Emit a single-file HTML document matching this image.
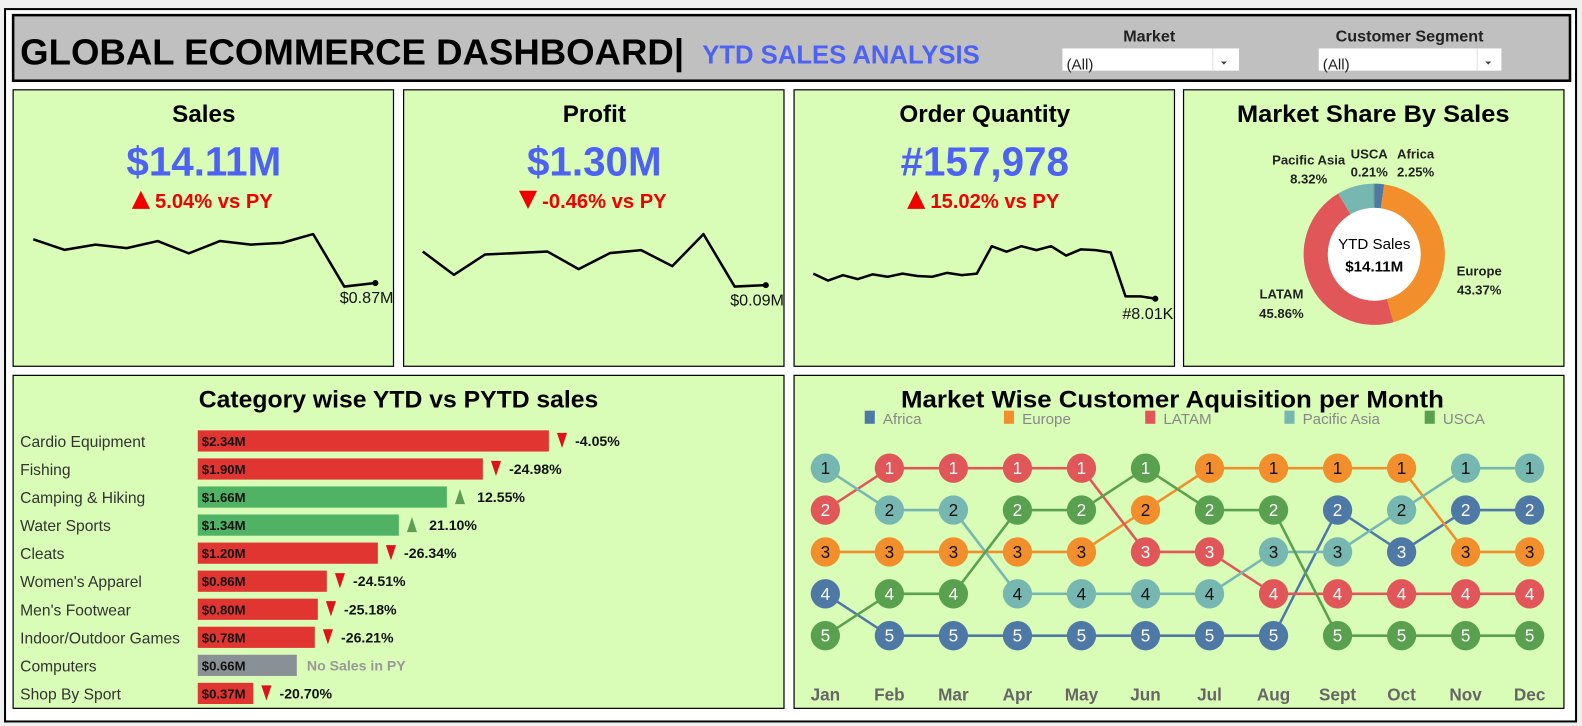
<!DOCTYPE html>
<html><head><meta charset="utf-8"><style>
html,body{margin:0;padding:0;background:#f0f0f0;}
svg{display:block;font-family:"Liberation Sans",sans-serif;}
</style></head><body>
<svg id="dash" width="1582" height="726" viewBox="0 0 1567.9 719.5" preserveAspectRatio="none" xmlns="http://www.w3.org/2000/svg">
<rect x="0" y="0" width="1568" height="720" fill="#f0f0f0"/>
<rect x="5" y="9" width="1557" height="706" fill="#ffffff" stroke="#000" stroke-width="2"/>
<rect x="13" y="15" width="1543" height="65" fill="#c0c0c0" stroke="#000" stroke-width="2.5"/>
<text x="20" y="64" font-size="36" font-weight="bold" fill="#000" textLength="658" lengthAdjust="spacingAndGlyphs">GLOBAL ECOMMERCE DASHBOARD|</text>
<text x="696" y="63" font-size="26" font-weight="bold" fill="#4d62f5" textLength="275" lengthAdjust="spacingAndGlyphs">YTD SALES ANALYSIS</text>
<text x="1139" y="41" font-size="16" font-weight="bold" fill="#222" text-anchor="middle">Market</text>
<g>
<rect x="1053" y="48" width="175" height="22" fill="#fff"/>
<line x1="1202" y1="48" x2="1202" y2="70" stroke="#ddd"/>
<text x="1057" y="69" font-size="15" fill="#222">(All)</text>
<path d="M1210 61 L1216 61 L1213 64 Z" fill="#444"/>
</g>
<text x="1397" y="41" font-size="16" font-weight="bold" fill="#222" text-anchor="middle">Customer Segment</text>
<g>
<rect x="1307" y="48" width="181" height="22" fill="#fff"/>
<line x1="1464" y1="48" x2="1464" y2="70" stroke="#ddd"/>
<text x="1311" y="69" font-size="15" fill="#222">(All)</text>
<path d="M1472 61 L1478 61 L1475 64 Z" fill="#444"/>
</g>

<g id="kpis"></g>
<rect x="1173" y="89" width="377" height="274" fill="#d9fcb6" stroke="#000" stroke-width="1.2"/>
<text x="1361" y="121" font-size="24" font-weight="bold" text-anchor="middle" textLength="270" lengthAdjust="spacingAndGlyphs">Market Share By Sales</text>
<g id="donut"></g>

<rect x="13" y="372" width="764" height="330" fill="#d9fcb6" stroke="#000" stroke-width="1.2"/>
<text x="395" y="404" font-size="24" font-weight="bold" text-anchor="middle" textLength="396" lengthAdjust="spacingAndGlyphs">Category wise YTD vs PYTD sales</text>
<g id="bars"></g>

<rect x="787" y="372" width="763" height="330" fill="#d9fcb6" stroke="#000" stroke-width="1.2"/>
<text x="1162" y="404" font-size="24" font-weight="bold" text-anchor="middle" textLength="538" lengthAdjust="spacingAndGlyphs">Market Wise Customer Aquisition per Month</text>
<g id="bump"></g>
</svg>
<script>
const kpiTitles = ["Sales","Profit","Order Quantity"];
const kpiValues = ["$14.11M","$1.30M","#157,978"];
const kpiChanges = ["5.04%  vs PY","-0.46% vs PY","15.02% vs PY"];
const kpiUp = [true,false,true];
const kpiEndLabels = ["$0.87M","$0.09M","#8.01K"];
const salesTrend = [2.2,1.9,2.05,1.95,2.15,1.8,2.15,2.05,2.1,2.35,0.85,0.95];
const profitTrend = [0.26,0.18,0.25,0.255,0.26,0.2,0.255,0.265,0.21,0.32,0.14,0.145];
const orderTrend = [13.5,12.6,13.3,12.8,13.4,13.1,13.5,13.2,13.1,13.6,13.3,13.5,17.0,16.3,17.0,16.5,17.0,15.8,16.6,16.5,16.2,10.6,10.6,10.3];
const trends = [salesTrend, profitTrend, orderTrend];

const shareMarkets = ["Africa","Europe","LATAM","Pacific Asia","USCA"];
const sharePct = [2.25,43.37,45.86,8.32,0.21];

const categories = ["Cardio Equipment","Fishing","Camping & Hiking","Water Sports","Cleats","Women's Apparel","Men's Footwear","Indoor/Outdoor Games","Computers","Shop By Sport"];
const categorySales = [2.34,1.90,1.66,1.34,1.20,0.86,0.80,0.78,0.66,0.37];
const categoryChange = [-4.05,-24.98,12.55,21.10,-26.34,-24.51,-25.18,-26.21,null,-20.70];

const months = ["Jan","Feb","Mar","Apr","May","Jun","Jul","Aug","Sept","Oct","Nov","Dec"];
const markets = ["Africa","Europe","LATAM","Pacific Asia","USCA"];
const rankAfrica = [4,5,5,5,5,5,5,5,2,3,2,2];
const rankEurope = [3,3,3,3,3,2,1,1,1,1,3,3];
const rankLatam = [2,1,1,1,1,3,3,4,4,4,4,4];
const rankPacific = [1,2,2,4,4,4,4,3,3,2,1,1];
const rankUsca = [5,4,4,2,2,1,2,2,5,5,5,5];
const ranks = [rankAfrica, rankEurope, rankLatam, rankPacific, rankUsca];

const NS = "http://www.w3.org/2000/svg";
function mk(tag, attrs, parent){ const e=document.createElementNS(NS,tag); for(const k in attrs) e.setAttribute(k,attrs[k]); parent.appendChild(e); return e; }

const kpiG = document.getElementById('kpis');
const kpiX = [13,400,787];
const sparkX0 = [33,419,806], sparkX1 = [372,759,1145];
const sparkY0 = 232, sparkY1 = 296;
for(let i=0;i<3;i++){
  const x0=kpiX[i], cx=x0+189;
  const p=mk('rect',{x:x0,y:89,width:377,height:274,fill:'#d9fcb6',stroke:'#000','stroke-width':1.2},kpiG);
  
  
  const t=mk('text',{x:cx,y:121,'font-size':24,'font-weight':'bold','text-anchor':'middle'},kpiG); t.textContent=kpiTitles[i];
  
  
  const v=mk('text',{x:cx,y:174,'font-size':40,'font-weight':'bold','text-anchor':'middle',fill:'#4d62f5'},kpiG); v.textContent=kpiValues[i];
  
  
  const c=mk('text',{x:cx+10,y:206,'font-size':20,'font-weight':'bold','text-anchor':'middle',fill:'#f00000'},kpiG); c.textContent=kpiChanges[i];
  
  
  const bb = c.getBBox(); const tx=bb.x-5;
  const tri=mk('path',{d: kpiUp[i]? `M${tx-18} 207 L${tx} 207 L${tx-9} 189 Z` : `M${tx-18} 189 L${tx} 189 L${tx-9} 207 Z`, fill:'#f00000'},kpiG);
  
  
  const d=trends[i]; const mn=Math.min(...d), mx=Math.max(...d);
  const sx=k=>sparkX0[i]+k*(sparkX1[i]-sparkX0[i])/(d.length-1);
  const sy=v=>sparkY1-(v-mn)/(mx-mn)*(sparkY1-sparkY0-12)-(i==2?0:12);
  let pts=d.map((v,k)=>sx(k).toFixed(1)+','+sy(v).toFixed(1)).join(' ');
  const pl=mk('polyline',{points:pts,fill:'none',stroke:'#000','stroke-width':2.5,'stroke-linejoin':'round'},kpiG);
  
  
  const dot=mk('circle',{cx:sx(d.length-1),cy:sy(d[d.length-1]),r:3,fill:'#000'},kpiG);
  
  
  const el=mk('text',{x:sparkX1[i]+18,y:sy(d[d.length-1])+20,'font-size':16,'text-anchor':'end',fill:'#111'},kpiG); el.textContent=kpiEndLabels[i];
  
  
}

const dG=document.getElementById('donut');
const colors={"Africa":"#4e79a7","Europe":"#f28e2b","LATAM":"#e15759","Pacific Asia":"#76b7b2","USCA":"#59a14f"};
const dcx=1362, dcy=252, R=70, r=46;
const tot=sharePct.reduce((a,b)=>a+b,0);
let ang=0;
for(let i=0;i<sharePct.length;i++){
  const a0=ang, a1=ang+sharePct[i]/tot*2*Math.PI; ang=a1;
  const P=(rad,a)=>[dcx+rad*Math.sin(a), dcy-rad*Math.cos(a)];
  const [x0,y0]=P(R,a0),[x1,y1]=P(R,a1),[x2,y2]=P(r,a1),[x3,y3]=P(r,a0);
  const lg=(a1-a0)>Math.PI?1:0;
  const s=mk('path',{d:`M${x0} ${y0} A${R} ${R} 0 ${lg} 1 ${x1} ${y1} L${x2} ${y2} A${r} ${r} 0 ${lg} 0 ${x3} ${y3} Z`,fill:colors[shareMarkets[i]]},dG);
  
  
}
mk('circle',{cx:dcx,cy:dcy,r:r,fill:'#fff'},dG);
const lbl=[["YTD Sales",dcx,247,15,'normal'],["$14.11M",dcx,269,15,'bold']];
const labelPos={"Pacific Asia":[1297,163,1297,182],"USCA":[1357,157,1357,175],"Africa":[1403,157,1403,175],"Europe":[1466,273,1466,292],"LATAM":[1270,296,1270,315]};
for(const [t,x,y,fs,fw] of lbl){ const e=mk('text',{x,y,'font-size':fs,'font-weight':fw,'text-anchor':'middle'},dG); e.textContent=t; }
shareMarkets.forEach((m,i)=>{
  const p=labelPos[m];
  const a=mk('text',{x:p[0],y:p[1],'font-size':13,'font-weight':'bold','text-anchor':'middle',fill:'#222'},dG); a.textContent=m;
  
  
  const b=mk('text',{x:p[2],y:p[3],'font-size':13,'font-weight':'bold','text-anchor':'middle',fill:'#222'},dG); b.textContent=sharePct[i].toFixed(2)+'%';
  
  
});

const bG=document.getElementById('bars');
const barX0=196, pxPerM=348/2.34;
const bx=v=>barX0+v*pxPerM;
const rowY=i=>437+i*27.8;
categories.forEach((c,i)=>{
  const y=rowY(i);
  const l=mk('text',{x:20,y:y+6,'font-size':15.5,fill:'#333'},bG); l.textContent=c;
  
  
  const ch=categoryChange[i];
  const col= ch===null?'#8a9196':(ch<0?'#e03531':'#50b264');
  const bar=mk('rect',{x:barX0,y:y-10.5,width:bx(categorySales[i])-barX0,height:21,fill:col},bG);
  
  
  const v=mk('text',{x:barX0+4,y:y+5,'font-size':13,'font-weight':'bold',fill:'#111'},bG); v.textContent='$'+categorySales[i].toFixed(2)+'M';
  
  
  const ex=bx(categorySales[i]);
  if(ch===null){
    const n=mk('text',{x:ex+10,y:y+5,'font-size':14,'font-weight':'bold',fill:'#999'},bG); n.textContent='No Sales in PY';
    
    
  } else {
    const t=mk('path',{d: ch<0?`M${ex+8} ${y-8} L${ex+18} ${y-8} L${ex+13} ${y+7} Z`:`M${ex+8} ${y+7} L${ex+18} ${y+7} L${ex+13} ${y-8} Z`, fill: ch<0?'#e3101a':'#5e9e55'},bG);
    
    
    const p=mk('text',{x:ex+(ch<0?26:30),y:y+5,'font-size':14,'font-weight':'bold',fill:'#111'},bG); p.textContent=ch.toFixed(2)+'%';
    
    
  }
});

const uG=document.getElementById('bump');
const mx0=818, mstep=(1516-818)/11;
const xm=i=>mx0+i*mstep;
const yr=r=>464+(r-1)*41.5;
const legX=[857,995,1135,1273,1412];
markets.forEach((m,i)=>{
  const s=mk('rect',{x:legX[i],y:407,width:10,height:13,fill:colors[m]},uG);
  
  
  const t=mk('text',{x:legX[i]+18,y:420,'font-size':15,fill:'#888'},uG); t.textContent=m;
  
  
});
ranks.forEach((rk,i)=>{
  const pl=mk('polyline',{points:rk.map((r,k)=>xm(k)+','+yr(r)).join(' '),fill:'none',stroke:colors[markets[i]],'stroke-width':2.5},uG);
  
  
});
const darkText={"Europe":true,"Pacific Asia":true};
ranks.forEach((rk,i)=>{
  rk.forEach((r,k)=>{
    const c=mk('circle',{cx:xm(k),cy:yr(r),r:14.5,fill:colors[markets[i]]},uG);
    
    
    const t=mk('text',{x:xm(k),y:yr(r)+6,'font-size':17,'text-anchor':'middle',fill:darkText[markets[i]]?'#111':'#fff'},uG); t.textContent=r;
  });
});
months.forEach((m,k)=>{
  const t=mk('text',{x:xm(k),y:694,'font-size':17,'font-weight':'bold','text-anchor':'middle',fill:'#666'},uG); t.textContent=m;
  
  
});
</script>
</body></html>
